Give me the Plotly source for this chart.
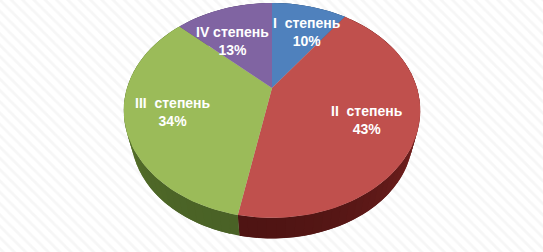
import numpy as np
import plotly.graph_objects as go

categories = ["I  степень", "II  степень", "III  степень", "IV степень"]
values = [10, 43, 34, 13]
top_colors = ["#4f81bd", "#c0504d", "#9bbb59", "#8064a2"]
side_near = ["#3a5f8c", "#4f1413", "#4a6226", "#5f4a7a"]
side_far = ["#3a5f8c", "#7c2422", "#62802f", "#5f4a7a"]
label_xy = [(307, 32), (367, 119.5), (173, 112), (232, 41)]

W, H = 543, 252
CX, CY, A, B, P = 272, 88, 145, 102.8, 0.209
S, D = 0.95, 27


def project(frac, scale=1.0, drop=0.0):
    t = 2 * np.pi * np.asarray(frac)
    u, v = np.sin(t), np.cos(t)
    w = 1 + P * v
    return CX + scale * A * u / w, CY + drop - scale * B * v / w


def mix(c1, c2, k):
    a = np.array([int(c1[i:i + 2], 16) for i in (1, 3, 5)])
    b = np.array([int(c2[i:i + 2], 16) for i in (1, 3, 5)])
    m = (a + (b - a) * k).round().astype(int)
    return f"rgb({m[0]},{m[1]},{m[2]})"


fig = go.Figure()

# striped page background
fig.add_trace(go.Scatter(
    x=[0, W, W, 0, 0], y=[0, 0, H, H, 0], mode="lines", fill="toself",
    line=dict(width=0), fillcolor="#ffffff",
    fillpattern=dict(shape="\\", fgcolor="#ededed", bgcolor="#ffffff", size=8, solidity=0.35),
    hoverinfo="skip", showlegend=False))

fracs = np.concatenate([[0], np.cumsum(values)]) / sum(values)

# soft shadow under the pie
full = np.linspace(0, 1, 200)
for grow, alpha in [(0.99, 0.05), (0.975, 0.07), (0.96, 0.09)]:
    sx, sy = project(full, S * grow, D + 1)
    fig.add_trace(go.Scatter(x=sx, y=sy, mode="lines", fill="toself", line=dict(width=0),
                             fillcolor=f"rgba(0,0,0,{alpha})", hoverinfo="skip", showlegend=False))

# extruded side wall, drawn back to front as overlapping shaded pieces
for i in range(len(values)):
    f0, f1 = fracs[i], fracs[i + 1]
    n = int(max(2, (f1 - f0) * 120))
    edges = np.linspace(f0, f1, n + 1)
    for e0, e1 in zip(edges[:-1], edges[1:]):
        ff = np.linspace(e0, min(f1, e1 + (f1 - f0) / n), 6)
        x1, y1 = project(ff)
        x2, y2 = project(ff[::-1], S, D)
        mid = (e0 + e1) / 2
        near = max(0.0, np.cos(2 * np.pi * (mid - 0.53)))
        col = mix(side_far[i], side_near[i], near)
        fig.add_trace(go.Scatter(
            x=np.r_[x1, x2], y=np.r_[y1, y2], mode="lines", fill="toself",
            line=dict(width=0), fillcolor=col,
            hoverinfo="skip", showlegend=False))

# top face
for i, cat in enumerate(categories):
    ff = np.linspace(fracs[i], fracs[i + 1], 80)
    x, y = project(ff)
    fig.add_trace(go.Scatter(
        x=np.r_[CX, x, CX], y=np.r_[CY, y, CY], mode="lines", fill="toself",
        line=dict(width=0), fillcolor=top_colors[i], name=cat,
        text=f"{cat}: {values[i]}%", hoverinfo="text", showlegend=False))

for cat, val, (lx, ly) in zip(categories, values, label_xy):
    fig.add_annotation(x=lx, y=ly, text=f"<b>{cat}<br>{val}%</b>", showarrow=False,
                       font=dict(family="Liberation Sans, Arial, sans-serif", size=14, color="#ffffff"),
                       align="center", xanchor="center", yanchor="middle")

fig.update_xaxes(range=[0, W], visible=False, fixedrange=True)
fig.update_yaxes(range=[H, 0], visible=False, fixedrange=True)
fig.update_layout(width=W, height=H, margin=dict(l=0, r=0, t=0, b=0),
                  paper_bgcolor="#ffffff", plot_bgcolor="#ffffff", showlegend=False)
fig.write_html("out.html", config={"displayModeBar": False},
               post_script="document.body.style.margin='0';document.documentElement.style.overflow='hidden';")
